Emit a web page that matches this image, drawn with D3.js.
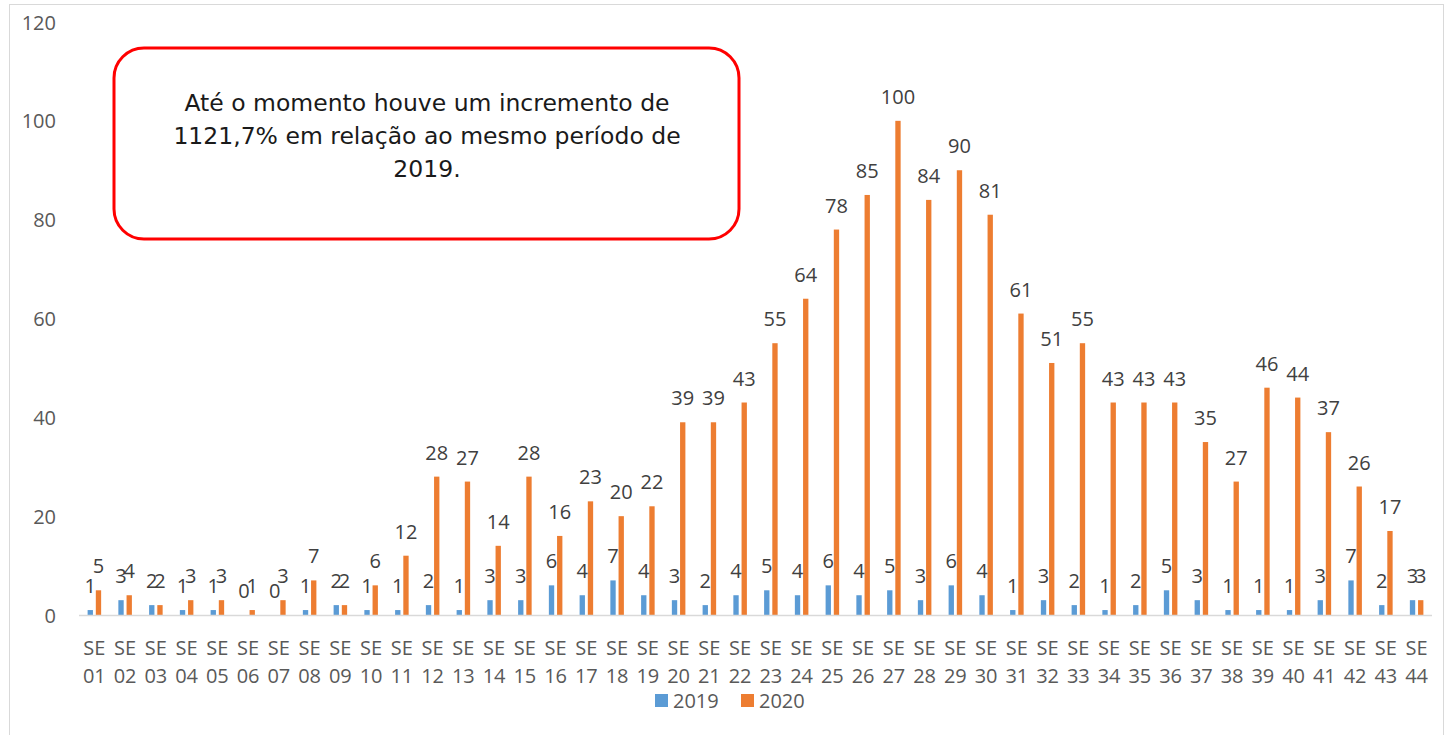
<!DOCTYPE html>
<html lang="pt">
<head>
<meta charset="UTF-8">
<title>SE 2019 x 2020</title>
<script src="https://d3js.org/d3.v7.min.js"></script>
<style>
    body { margin: 0; background: #fff; }
    svg text { font-family: "Open Sans", sans-serif; }
    .tick text { fill: #595959; font-size: 20px; }
    .lbl { fill: #404040; font-size: 20px; }
    .note { font-family: "DejaVu Sans", sans-serif; fill: #1a1a1a; font-size: 23.5px; }
</style>
</head>
<body>
<svg id="chart" width="1453" height="735"></svg>
<script>
    // semanas epidemiologicas
    let semanas = ["01","02","03","04","05","06","07","08","09","10","11","12","13","14","15","16","17","18","19","20","21","22",
        "23","24","25","26","27","28","29","30","31","32","33","34","35","36","37","38","39","40","41","42","43","44"];
    let casos2019 = [1,3,2,1,1,0,0,1,2,1,1,2,1,3,3,6,4,7,4,3,2,4,5,4,6,4,5,3,6,4,1,3,2,1,2,5,3,1,1,1,3,7,2,3];
    let casos2020 = [5,4,2,3,3,1,3,7,2,6,12,28,27,14,28,16,23,20,22,39,39,43,55,64,78,85,100,84,90,81,61,51,55,43,43,43,35,27,46,44,37,26,17,3];
    let series = ["2019", "2020"];
    let cores = ["#5b9bd5", "#ed7d31"];
    let yTicks = [0, 20, 40, 60, 80, 100, 120];
    let nota = ["Até o momento houve um incremento de", "1121,7% em relação ao mesmo período de", "2019."];

    let svg = d3.select("#chart");

    // moldura
    svg.append("rect")
        .attr("x", 9.5).attr("y", 4.5)
        .attr("width", 1434).attr("height", 740)
        .attr("fill", "none").attr("stroke", "#d9d9d9");

    let x = d3.scaleBand().domain(semanas).range([79, 1432]);
    let y = d3.scaleLinear().domain([0, 120]).range([615, 22]);
    let sub = d3.scaleBand().domain(series).range([0, x.bandwidth()]).paddingInner(0.35).paddingOuter(1.05);

    // eixo y
    let gy = svg.append("g").attr("transform", "translate(56,0)")
        .call(d3.axisLeft(y).tickValues(yTicks).tickSize(0).tickPadding(0));
    gy.select(".domain").remove();
    gy.selectAll(".tick text").attr("dy", "0.35em");

    // barras
    let dados = semanas.map((s, i) => ({s: s, v: [casos2019[i], casos2020[i]]}));
    let grupos = svg.append("g").selectAll("g").data(dados).join("g")
        .attr("transform", d => `translate(${x(d.s)},0)`);

    grupos.selectAll("rect").data(d => d.v.map((v, k) => ({k: series[k], v: v}))).join("rect")
        .attr("x", d => sub(d.k))
        .attr("width", sub.bandwidth())
        .attr("y", d => y(d.v))
        .attr("height", d => y(0) - y(d.v))
        .attr("fill", (d, k) => cores[k]);

    grupos.selectAll("text").data(d => d.v.map((v, k) => ({k: series[k], v: v}))).join("text")
        .attr("class", "lbl")
        .attr("x", d => sub(d.k) + sub.bandwidth() / 2)
        .attr("y", d => y(d.v) - 17)
        .attr("text-anchor", "middle")
        .text(d => d.v);

    // eixo x
    svg.append("line").attr("x1", 79).attr("x2", 1432).attr("y1", 615.5).attr("y2", 615.5)
        .attr("stroke", "#d9d9d9").attr("stroke-width", 1.5);

    let gx = svg.append("g");
    semanas.forEach(s => {
        let t = gx.append("text")
            .attr("text-anchor", "middle")
            .style("fill", "#595959").style("font-size", "20px");
        t.append("tspan").attr("x", x(s) + x.bandwidth() / 2).attr("y", 655).text("SE");
        t.append("tspan").attr("x", x(s) + x.bandwidth() / 2).attr("y", 683).text(s);
    });

    // legenda
    let leg = svg.append("g").selectAll("g").data(series).join("g")
        .attr("transform", (d, i) => `translate(${655 + i * 86},694)`);
    leg.append("rect").attr("width", 13).attr("height", 13).attr("fill", (d, i) => cores[i]);
    leg.append("text").attr("x", 18).attr("y", 14)
        .style("fill", "#595959").style("font-size", "20px").text(d => d);

    // caixa de texto
    svg.append("rect")
        .attr("x", 114).attr("y", 48).attr("width", 625).attr("height", 191)
        .attr("rx", 30).attr("ry", 30)
        .attr("fill", "#fff").attr("stroke", "#ff0000").attr("stroke-width", 3);
    svg.append("g").selectAll("text").data(nota).join("text")
        .attr("class", "note")
        .attr("x", 427)
        .attr("y", (d, i) => 111 + i * 33)
        .attr("text-anchor", "middle")
        .text(d => d);
</script>
</body>
</html>
